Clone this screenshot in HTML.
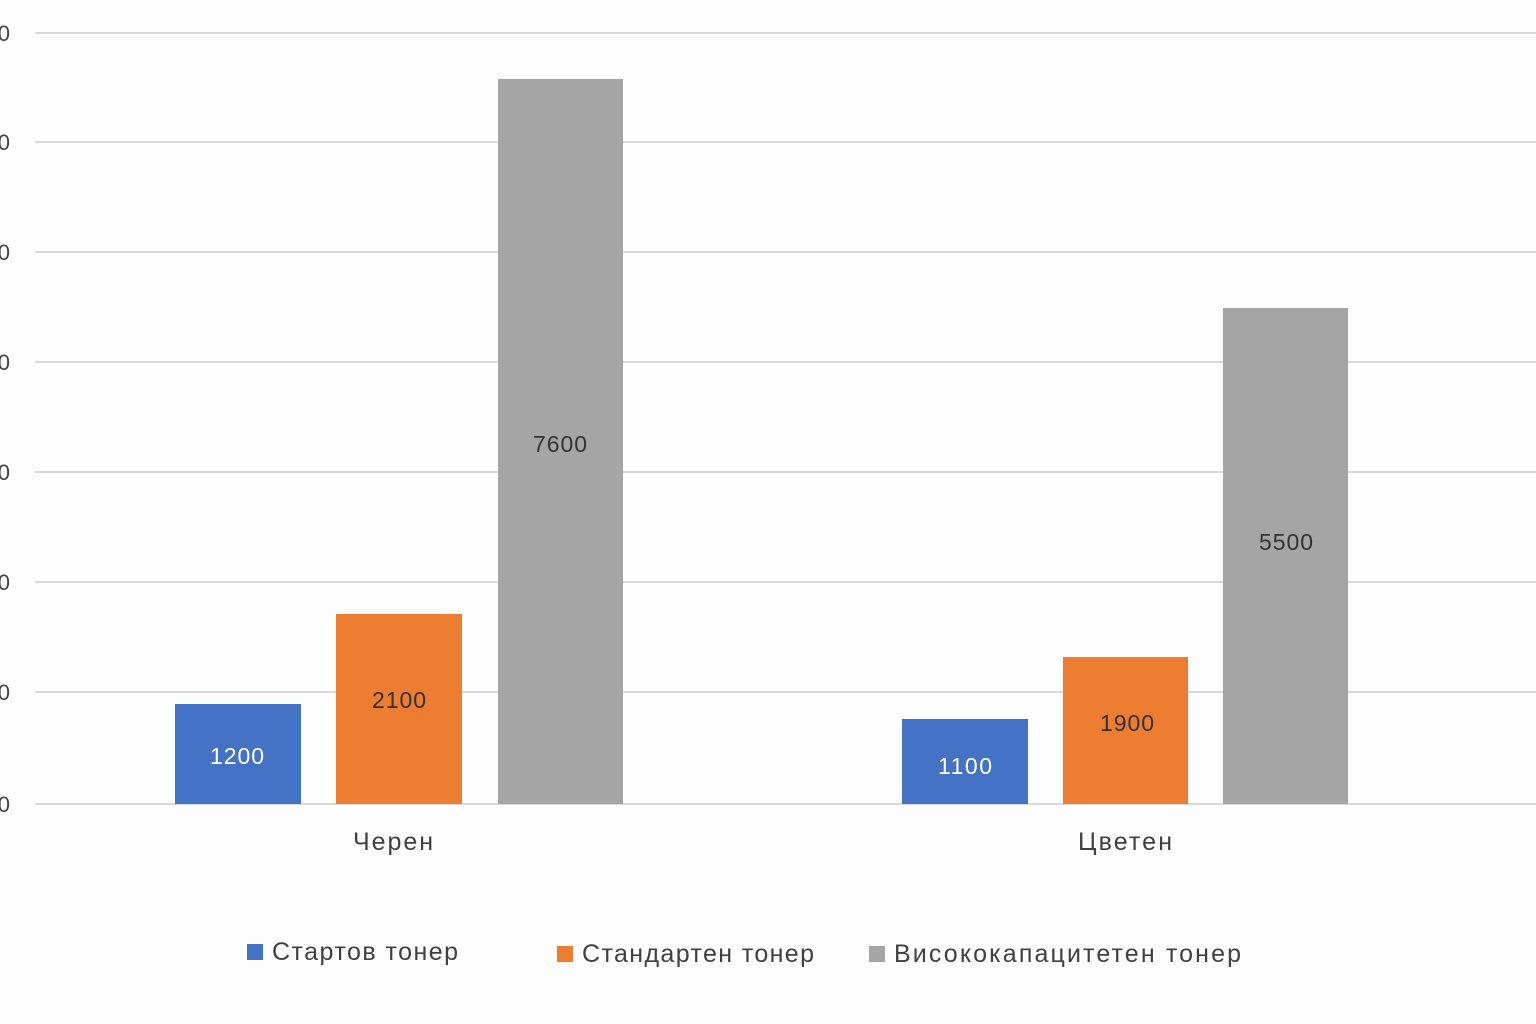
<!DOCTYPE html>
<html><head><meta charset="utf-8"><style>
html,body{margin:0;padding:0;background:#fdfdfd;}
svg{display:block;font-family:"Liberation Sans","DejaVu Sans",sans-serif;}
</style></head><body>
<svg width="1536" height="1024" viewBox="0 0 1536 1024">
<rect width="1536" height="1024" fill="#fdfdfd"/>
<g stroke="#d9d9d9" stroke-width="2">
<line x1="35" y1="33" x2="1536" y2="33"/>
<line x1="35" y1="142" x2="1536" y2="142"/>
<line x1="35" y1="252" x2="1536" y2="252"/>
<line x1="35" y1="362" x2="1536" y2="362"/>
<line x1="35" y1="472" x2="1536" y2="472"/>
<line x1="35" y1="582" x2="1536" y2="582"/>
<line x1="35" y1="692" x2="1536" y2="692"/>
<line x1="35" y1="804" x2="1536" y2="804"/>
</g>
<g font-size="22" fill="#444" text-anchor="end">
<text x="10" y="41">0</text><text x="10" y="150">0</text><text x="10" y="260">0</text><text x="10" y="370">0</text>
<text x="10" y="480">0</text><text x="10" y="590">0</text><text x="10" y="700">0</text><text x="10" y="812">0</text>
</g>
<rect x="175" y="704" width="126" height="100" fill="#4472c4"/>
<rect x="336" y="614" width="126" height="190" fill="#ed7d31"/>
<rect x="498" y="79" width="125" height="725" fill="#a5a5a5"/>
<rect x="902" y="719" width="126" height="85" fill="#4472c4"/>
<rect x="1063" y="657" width="125" height="147" fill="#ed7d31"/>
<rect x="1223" y="308" width="125" height="496" fill="#a5a5a5"/>
<g font-size="23" text-anchor="middle">
<text x="237" y="764" fill="#fff" textLength="54">1200</text>
<text x="399" y="708" fill="#333" textLength="54">2100</text>
<text x="560" y="452" fill="#333" textLength="54">7600</text>
<text x="965" y="774" fill="#fff" textLength="54">1100</text>
<text x="1127" y="731" fill="#333" textLength="54">1900</text>
<text x="1286" y="550" fill="#333" textLength="54">5500</text>
</g>
<g font-size="25" fill="#404040" text-anchor="middle">
<text x="393" y="850" textLength="80">Черен</text>
<text x="1125" y="850" textLength="94">Цветен</text>
</g>
<g font-size="25" fill="#404040">
<rect x="247" y="944" width="16" height="16" fill="#4472c4"/><text x="272" y="960" textLength="186">Стартов тонер</text>
<rect x="557" y="946" width="16" height="16" fill="#ed7d31"/><text x="582" y="962" textLength="232">Стандартен тонер</text>
<rect x="869" y="946" width="16" height="16" fill="#a5a5a5"/><text x="894" y="962" textLength="347">Висококапацитетен тонер</text>
</g>
</svg>
</body></html>
